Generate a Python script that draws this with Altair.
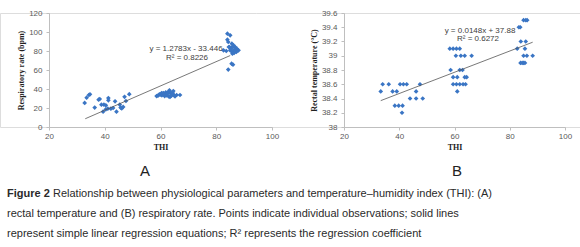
import altair as alt
import pandas as pd

# ---- Panel A: respiratory rate vs THI ----
a_thi = [32.8, 33.5, 34.3, 34.7, 36.4, 37.8, 38.2, 38.8, 39.7, 39.4, 40.4, 40.4, 41.3,
         41.3, 41.1, 42.2, 43.0, 43.7, 44.2, 45.4, 45.7, 46.1, 46.6, 47.1, 47.6, 48.8,
         58.6, 59.1, 59.6, 60.1, 60.5, 60.4, 61.0, 61.0, 61.5, 61.7, 61.9, 62.2, 62.5,
         62.8, 62.9, 63.2, 63.4, 63.4, 63.7, 63.9, 64.1, 64.4, 64.6, 64.9, 65.2, 65.8, 67.0,
         84.0, 85.0, 84.0, 84.3, 84.8, 85.6, 86.2, 86.8, 85.0, 82.6, 83.6, 85.5, 86.2,
         87.2, 88.0, 85.8, 86.4, 87.4, 85.5, 86.0, 84.3, 84.5, 85.3, 86.7, 85.9]
a_rr = [25.3, 30.9, 33.7, 34.4, 20.4, 28.8, 29.5, 23.5, 23.5, 16.1, 22.8, 18.6, 30.5,
        28.1, 19.3, 19.3, 20.0, 27.0, 16.1, 23.5, 20.4, 19.6, 21.1, 31.8, 27.4, 34.6,
        32.6, 33.0, 34.4, 34.0, 33.3, 35.8, 34.4, 35.8, 32.6, 34.4, 36.5, 33.3, 35.4,
        36.8, 32.3, 38.6, 37.2, 31.6, 35.1, 33.0, 34.0, 35.8, 37.9, 33.3, 32.3, 33.7, 33.7,
        98.2, 96.5, 91.9, 89.5, 84.2, 87.7, 86.0, 84.2, 80.7, 80.7, 80.0, 79.7, 80.7,
        79.0, 80.7, 77.2, 77.9, 82.5, 66.7, 65.6, 60.4, 84.2, 82.5, 81.4, 84.5]
a_line_x = [33.0, 85.0]
a_line_y = [8.7, 75.2]
a_eq = ["y = 1.2783x - 33.446", "R² = 0.8226"]

# ---- Panel B: rectal temperature vs THI ----
b_thi = [33.3, 37.6, 39.1, 46.1,
         34.0, 36.2, 40.3, 41.5, 42.7, 47.5,
         38.4, 39.8, 41.2, 41.0,
         43.9, 46.1, 48.5,
         58.3, 59.5, 60.7, 61.9,
         60.5, 62.3, 63.7, 66.2,
         58.6, 61.9, 62.9,
         59.5, 61.0, 63.7, 64.4,
         59.5, 60.7, 61.9, 63.1, 64.0,
         61.0,
         85.0, 85.8, 86.3, 83.3, 83.8, 84.0, 85.8, 82.7, 85.5,
         85.0, 86.2, 88.3, 83.9, 84.5, 85.0, 85.5]
b_rt = [38.5, 38.5, 38.5, 38.5,
        38.6, 38.6, 38.6, 38.6, 38.6, 38.6,
        38.3, 38.3, 38.3, 38.2,
        38.4, 38.4, 38.4,
        39.1, 39.1, 39.1, 39.1,
        39.0, 39.0, 39.0, 39.0,
        38.8, 38.8, 38.8,
        38.7, 38.7, 38.7, 38.7,
        38.6, 38.6, 38.6, 38.6, 38.6,
        38.5,
        39.5, 39.5, 39.5, 39.4, 39.4, 39.2, 39.2, 39.1, 39.1,
        39.0, 39.0, 39.0, 38.9, 38.9, 38.9, 38.9]
b_line_x = [33.3, 88.3]
b_line_y = [38.37, 39.19]
b_eq = ["y = 0.0148x + 37.88", "R² = 0.6272"]

x_ticks = [20, 40, 60, 80, 100]
a_y_ticks = [0, 20, 40, 60, 80, 100, 120]
b_y_ticks = [38.0, 38.2, 38.4, 38.6, 38.8, 39.0, 39.2, 39.4, 39.6]

panel_labels = ["A", "B"]
caption_bold = "Figure 2"
caption_lines = [
    "Relationship between physiological parameters and temperature–humidity index (THI): (A)",
    "rectal temperature and (B) respiratory rate. Points indicate individual observations; solid lines",
    "represent simple linear regression equations; R² represents the regression coefficient",
]

PT = "#3a75c4"
AX = "#bfbfbf"
LBL = "#595959"
TOP = 13  # top padding

dfa = pd.DataFrame({"thi": a_thi, "v": a_rr})
dfb = pd.DataFrame({"thi": b_thi, "v": b_rt})
dfal = pd.DataFrame({"thi": a_line_x, "v": a_line_y})
dfbl = pd.DataFrame({"thi": b_line_x, "v": b_line_y})


def axis_common(**kw):
    base = dict(grid=False, domainColor=AX, tickColor=AX, tickSize=3, labelColor=LBL,
                labelFont="Liberation Sans", labelFontSize=8, titleFont="Liberation Serif",
                titleFontWeight="bold", titleFontSize=8, titleColor="#222222")
    base.update(kw)
    return alt.Axis(**base)


xa_scale = alt.Scale(domain=[20, 100], range=[49, 272], nice=False, zero=False)
xb_scale = alt.Scale(domain=[20, 100], range=[344, 565], nice=False, zero=False)
ya_scale = alt.Scale(domain=[0, 120], nice=False)
yb_scale = alt.Scale(domain=[38, 39.6], nice=False, zero=False)

a_pts = alt.Chart(dfa).mark_point(shape="diamond", filled=True, size=22, color=PT, opacity=1).encode(
    x=alt.X("thi:Q", scale=xa_scale,
            axis=axis_common(values=x_ticks, title="THI", orient="bottom", labelFlush=False,
                             labelPadding=2, titlePadding=3)),
    y=alt.Y("v:Q", scale=ya_scale,
            axis=axis_common(values=a_y_ticks, title="Respiratory rate (bpm)", orient="left",
                             offset=-49, labelPadding=4, titlePadding=3)),
)
a_ln = alt.Chart(dfal).mark_line(color="#555555", strokeWidth=0.8).encode(
    x=alt.X("thi:Q", scale=xa_scale, axis=None),
    y=alt.Y("v:Q", scale=ya_scale, axis=None),
)
b_pts = alt.Chart(dfb).mark_point(shape="diamond", filled=True, size=22, color=PT, opacity=1).encode(
    x=alt.X("thi:Q", scale=xb_scale,
            axis=axis_common(values=x_ticks, title="THI", orient="bottom", labelFlush=False,
                             labelPadding=2, titlePadding=3)),
    y=alt.Y("v:Q", scale=yb_scale,
            axis=axis_common(values=b_y_ticks, format=".1~f", title="Rectal temperature (°C)",
                             orient="left", offset=-344, labelPadding=4, titlePadding=3)),
)
b_ln = alt.Chart(dfbl).mark_line(color="#555555", strokeWidth=0.8).encode(
    x=alt.X("thi:Q", scale=xb_scale, axis=None),
    y=alt.Y("v:Q", scale=yb_scale, axis=None),
)

one = alt.Data(values=[{}])


def txt(s, x, y, size=8, color="#404040", weight="normal", align="center", font="Liberation Sans"):
    return alt.Chart(one).mark_text(text=s, fontSize=size, color=color, fontWeight=weight,
                                    align=align, baseline="alphabetic", font=font).encode(
        x=alt.value(x), y=alt.value(y - TOP))


CAP = "#2a2a2a"
texts = [
    txt(a_eq[0], 186, 51), txt(a_eq[1], 187, 60),
    txt(b_eq[0], 480, 33), txt(b_eq[1], 478, 41),
    txt(panel_labels[0], 145, 176, size=15, color="#222222"),
    txt(panel_labels[1], 457, 176, size=15, color="#222222"),
    txt(caption_bold, 7, 197, size=11, color=CAP, weight="bold", align="left"),
    txt(caption_lines[0], 53, 197, size=11, color=CAP, align="left"),
    txt(caption_lines[1], 7, 217, size=11, color=CAP, align="left"),
    txt(caption_lines[2], 7, 237, size=11, color=CAP, align="left"),
]

chart = alt.layer(a_pts, a_ln, b_pts, b_ln, *texts).resolve_scale(
    x="independent", y="independent"
).properties(
    width=580, height=114,
    autosize=alt.AutoSizeParams(type="none"),
    padding={"left": 0, "top": TOP, "right": 0, "bottom": 120},
).configure_view(stroke=None).configure(background="white")

chart.save("out.html", embed_options={"renderer": "svg", "actions": False})
